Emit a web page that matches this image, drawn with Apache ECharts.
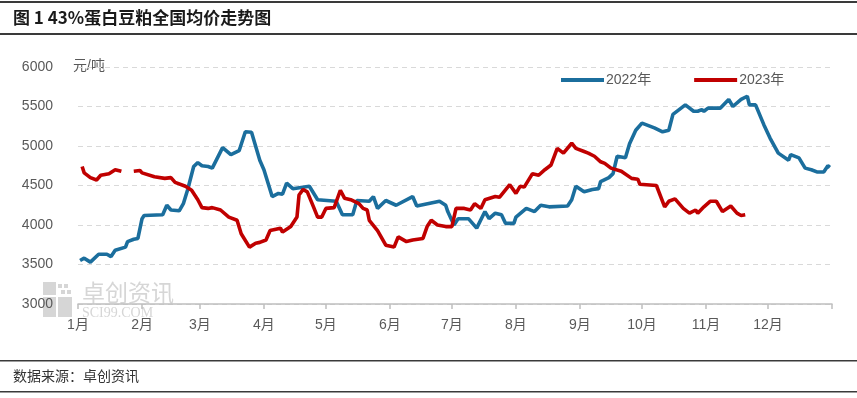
<!DOCTYPE html>
<html>
<head>
<meta charset="utf-8">
<script src="https://cdn.jsdelivr.net/npm/echarts@6/dist/echarts.min.js"></script>
<style>
html,body{margin:0;padding:0;background:#fff;}
#chart{width:857px;height:398px;}
</style>
</head>
<body>
<div id="chart"></div>
<script>
const titleText = '图 1 43%蛋白豆粕全国均价走势图';
const sourceText = '数据来源：卓创资讯';
const unitText = '元/吨';
const monthLabels = ['1月','2月','3月','4月','5月','6月','7月','8月','9月','10月','11月','12月'];
const yTicks = [3000, 3500, 4000, 4500, 5000, 5500, 6000];
const seriesNames = ['2022年', '2023年'];

const dates2022 = ['01-02','01-04','01-07','01-11','01-15','01-17','01-19','01-24','01-25','01-28','01-30',
 '02-01','02-02','02-11','02-13','02-15','02-19','02-21','02-23','02-26','02-28',
 '03-02','03-05','03-07','03-12','03-16','03-20','03-23','03-26','03-30',
 '04-01','04-05','04-08','04-10','04-12','04-15','04-23','04-27',
 '05-06','05-09','05-14','05-16','05-22','05-24','05-26','05-30',
 '06-04','06-12','06-14','06-25','06-28','06-29',
 '07-02','07-04','07-09','07-13','07-17','07-19','07-22','07-25','07-27','07-31',
 '08-01','08-06','08-10','08-13','08-17','08-26','08-28','08-30',
 '09-03','09-07','09-10','09-11','09-15','09-17','09-19','09-23','09-25','09-28',
 '10-01','10-07','10-11','10-14','10-16','10-22','10-26','10-28','10-30','10-31',
 '11-02','11-08','11-12','11-14','11-18','11-21','11-22','11-25','11-29',
 '12-02','12-06','12-11','12-12','12-16','12-19','12-22','12-25','12-28','12-30','12-31'];
const values2022 = [3550,3580,3530,3630,3630,3600,3680,3720,3790,3820,3830,
 4080,4120,4130,4250,4190,4180,4270,4440,4740,4790,
 4750,4740,4720,4980,4890,4940,5180,5175,4820,
 4700,4360,4400,4390,4530,4460,4490,4320,
 4300,4130,4130,4310,4300,4360,4210,4310,
 4250,4360,4240,4300,4250,4170,
 4000,4080,4080,3960,4170,4080,4150,4130,4020,4020,
 4100,4210,4170,4250,4230,4240,4320,4490,
 4420,4450,4460,4550,4600,4650,4870,4850,5030,5200,
 5290,5230,5180,5200,5400,5520,5440,5440,5460,5440,
 5480,5480,5590,5500,5590,5630,5520,5520,5270,
 5100,4910,4820,4890,4850,4720,4700,4670,4670,4750,4730];

const dates2023 = ['01-03','01-04','01-07','01-10','01-12','01-16','01-19','01-22','01-25','01-28','01-31',
 '02-01','02-07','02-12','02-15','02-17','02-22','02-25','02-28',
 '03-02','03-05','03-07','03-11','03-15','03-19','03-21','03-25','03-28','03-30',
 '04-02','04-04','04-09','04-10','04-14','04-17','04-18','04-20','04-22','04-25','04-27','04-29',
 '05-01','05-05','05-08','05-10','05-13','05-17','05-19','05-21','05-22','05-26','05-30',
 '06-03','06-05','06-09','06-12','06-17','06-19','06-21','06-24','06-28',
 '07-01','07-03','07-07','07-10','07-12','07-15','07-17','07-22','07-24','07-29',
 '08-01','08-03','08-05','08-09','08-12','08-15','08-18','08-21','08-24','08-28','08-30',
 '09-03','09-05','09-08','09-11','09-13','09-16','09-21','09-26','09-29','09-30',
 '10-08','10-12','10-14','10-17','10-21','10-24','10-27','10-28','10-31',
 '11-03','11-06','11-09','11-13','11-16','11-18','11-20'];
const values2023 = [4740,4660,4600,4570,4630,4650,4700,4680,null,4680,4690,
 4660,4610,4590,4600,4540,4490,4440,4320,
 4220,4210,4220,4190,4100,4060,3890,3720,3770,3780,
 3810,3930,3960,3910,3980,4100,4380,4450,4420,4230,4100,4100,
 4210,4220,4440,4340,4320,4270,4210,4190,4060,3930,3745,
 3720,3850,3790,3810,3830,3980,4060,4000,3980,
 3980,4210,4210,4190,4270,4210,4320,4360,4350,4510,
 4400,4490,4480,4650,4630,4700,4760,4970,4910,5035,4970,
 4930,4910,4870,4800,4780,4720,4680,4590,4580,4515,
 4500,4230,4300,4330,4210,4150,4190,4150,4230,
 4300,4300,4170,4240,4150,4120,4130];

function dayIndex(mmdd) {
  const p = mmdd.split('-');
  return Math.round((Date.UTC(2022, +p[0] - 1, +p[1]) - Date.UTC(2022, 0, 1)) / 86400000);
}
const monthStarts = [];
for (let m = 0; m <= 12; m++) {
  monthStarts.push(Math.round((Date.UTC(2022, m, 1) - Date.UTC(2022, 0, 1)) / 86400000));
}
function toPairs(dates, values) {
  return dates.map((d, i) => [dayIndex(d), values[i] == null ? '-' : values[i]]);
}

const labelFont = '"Liberation Sans", "Noto Sans CJK SC", sans-serif';
const gray = '#595959';
const blue = '#1b6e9d';
const red = '#c00000';
const wm = '#d6d6d6';

const chart = echarts.init(document.getElementById('chart'), null, {renderer: 'canvas'});
chart.setOption({
  animation: false,
  backgroundColor: '#fff',
  grid: {left: 78, right: 25, top: 67, bottom: 94},
  legend: {
    left: 556, top: 68,
    itemWidth: 43, itemHeight: 4, itemGap: 43,
    icon: 'rect',
    textStyle: {fontSize: 14, color: gray, fontFamily: labelFont, padding: [0, 0, 0, -3]},
    data: seriesNames
  },
  xAxis: {
    type: 'value', min: 0, max: 365,
    axisLine: {show: true, lineStyle: {color: '#bfbfbf', width: 1.5}},
    axisTick: {show: true, length: 5, lineStyle: {color: '#bfbfbf', width: 1.5}, customValues: monthStarts},
    axisLabel: {
      customValues: monthStarts.slice(0, 12),
      formatter: v => monthLabels[monthStarts.indexOf(v)] || '',
      fontSize: 14, color: gray, fontFamily: labelFont, margin: 14
    },
    splitLine: {show: false}
  },
  yAxis: {
    type: 'value', min: yTicks[0], max: yTicks[yTicks.length - 1], interval: 500,
    axisLine: {show: false}, axisTick: {show: false},
    axisLabel: {fontSize: 14, color: gray, fontFamily: labelFont, margin: 25, formatter: v => String(v)},
    splitLine: {show: true, lineStyle: {color: '#d9d9d9', width: 1.2, type: [5, 4]}}
  },
  series: [
    {name: seriesNames[0], type: 'line', data: toPairs(dates2022, values2022), showSymbol: false,
     lineStyle: {color: blue, width: 3.6}, itemStyle: {color: blue}, z: 3},
    {name: seriesNames[1], type: 'line', data: toPairs(dates2023, values2023), showSymbol: false,
     connectNulls: false, lineStyle: {color: red, width: 3.6}, itemStyle: {color: red}, z: 4}
  ],
  graphic: [
    {type: 'rect', shape: {x: 0, y: 1, width: 857, height: 2}, style: {fill: '#3a3a3a'}},
    {type: 'text', left: 13, top: 9, style: {text: titleText, fontSize: 17, fontWeight: 'bold', fill: '#1a1a1a', fontFamily: '"Noto Sans CJK SC", sans-serif'}},
    {type: 'rect', shape: {x: 0, y: 33, width: 857, height: 2}, style: {fill: '#3a3a3a'}},
    {type: 'text', left: 73, top: 59, style: {text: unitText, fontSize: 14, fill: gray, fontFamily: labelFont}},
    {type: 'rect', shape: {x: 0, y: 360, width: 857, height: 1.5}, style: {fill: '#3a3a3a'}},
    {type: 'text', left: 13, top: 369, style: {text: sourceText, fontSize: 14, fill: '#333', fontFamily: '"Noto Sans CJK SC", sans-serif'}},
    {type: 'rect', shape: {x: 0, y: 391, width: 857, height: 1.5}, style: {fill: '#3a3a3a'}},
    {type: 'group', left: 43, top: 282, z: -1, silent: true, children: [
      {type: 'rect', shape: {x: 0, y: 0, width: 13, height: 13}, style: {fill: wm}},
      {type: 'rect', shape: {x: 15, y: 2, width: 4, height: 4}, style: {fill: wm}},
      {type: 'rect', shape: {x: 21, y: 2, width: 4, height: 4}, style: {fill: wm}},
      {type: 'rect', shape: {x: 18, y: 8, width: 4, height: 4}, style: {fill: wm}},
      {type: 'rect', shape: {x: 24, y: 8, width: 4, height: 4}, style: {fill: wm}},
      {type: 'rect', shape: {x: 0, y: 15, width: 13, height: 20}, style: {fill: wm}},
      {type: 'rect', shape: {x: 15, y: 15, width: 14, height: 20}, style: {fill: wm}}
    ]},
    {type: 'text', left: 82, top: 281, z: -1, silent: true, style: {text: '卓创资讯', fontSize: 23, letterSpacing: 5, fill: wm, fontFamily: '"Noto Sans CJK SC", sans-serif'}},
    {type: 'text', left: 82, top: 306, z: -1, silent: true, style: {text: 'SCI99.COM', fontSize: 14, letterSpacing: 4.5, fill: wm, fontFamily: '"Liberation Serif", serif'}}
  ]
});
</script>
</body>
</html>
